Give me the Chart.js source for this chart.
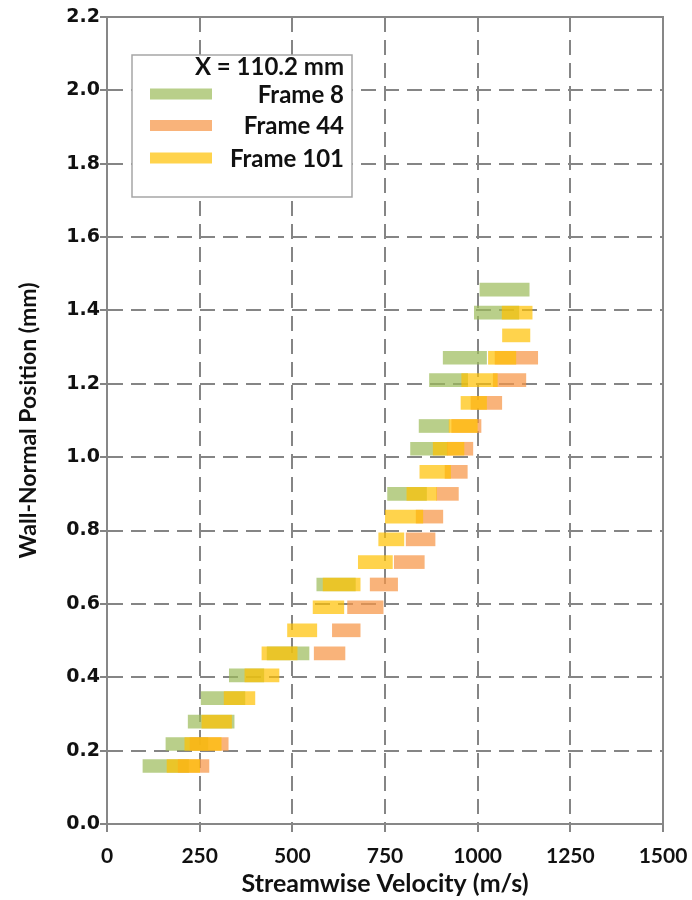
<!DOCTYPE html>
<html>
<head>
<meta charset="utf-8">
<script src="https://cdn.jsdelivr.net/npm/chart.js@4.4.1/dist/chart.umd.min.js"></script>
<style>
  html, body { margin: 0; padding: 0; background: #fff; }
  #wrap { width: 692px; height: 900px; }
</style>
</head>
<body>
<div id="wrap"><canvas id="velChart" width="692" height="900"></canvas></div>
<script>
// ---- data (velocity ranges in m/s at each wall-normal position in mm) ----
const X_TICKS = [0, 250, 500, 750, 1000, 1250, 1500];
const Y_TICKS = [0, 0.2, 0.4, 0.6, 0.8, 1.0, 1.2, 1.4, 1.6, 1.8, 2.0, 2.2];
const LEGEND_TITLE = 'X = 110.2 mm';

const frame8Pos = [0.158, 0.218, 0.279, 0.343, 0.405, 0.465, 0.653, 0.900, 1.023, 1.085, 1.210, 1.271, 1.394, 1.457];
const frame8Lo  = [97, 159, 219, 254, 330, 432, 566, 757, 819, 842, 870, 907, 991, 1006];
const frame8Hi  = [220, 272, 343, 372, 423, 545, 670, 862, 918, 923, 973, 1024, 1111, 1139];

const frame44Pos = [0.158, 0.218, 0.465, 0.528, 0.591, 0.653, 0.714, 0.776, 0.838, 0.900, 0.960, 1.023, 1.085, 1.148, 1.210, 1.271];
const frame44Lo  = [192, 224, 559, 608, 649, 710, 775, 807, 834, 889, 912, 918, 930, 982, 1042, 1047];
const frame44Hi  = [275, 327, 642, 683, 745, 784, 856, 885, 906, 948, 972, 987, 1009, 1065, 1130, 1162];

const frame101Pos = [0.158, 0.218, 0.279, 0.343, 0.405, 0.465, 0.528, 0.591, 0.653, 0.714, 0.776, 0.838, 0.900, 0.960, 1.023, 1.085, 1.148, 1.210, 1.271, 1.332, 1.394];
const frame101Lo  = [162, 210, 256, 316, 372, 418, 487, 556, 583, 678, 733, 751, 809, 844, 880, 923, 955, 957, 1029, 1067, 1066];
const frame101Hi  = [250, 308, 336, 399, 464, 513, 566, 639, 683, 770, 801, 852, 889, 927, 963, 999, 1024, 1053, 1103, 1141, 1147];

const COLORS = {
  green: 'rgba(155, 187, 89, 0.7)',
  orange: 'rgba(247, 150, 70, 0.72)',
  yellow: 'rgba(255, 192, 0, 0.7)',
  grid: '#858585',
  frame: '#878787',
  text: '#111111',
};

function toBars(pos, lo, hi) {
  return pos.map((y, i) => ({ y: y, x: [lo[i], hi[i]] }));
}

// solid box around the plot area (top/right edges are not scale borders)
const plotFrame = {
  id: 'plotFrame',
  beforeDatasetsDraw(chart) {
    const { ctx, chartArea: a } = chart;
    ctx.save();
    ctx.strokeStyle = COLORS.frame;
    ctx.lineWidth = 2;
    ctx.strokeRect(a.left, a.top, a.right - a.left, a.bottom - a.top);
    ctx.restore();
  },
};

// boxed legend inside the plot, text right aligned like the original
const legendBox = {
  id: 'legendBox',
  afterDraw(chart) {
    const { ctx, chartArea: a } = chart;
    const left = a.left + 25, top = a.top + 38, w = 220, h = 142;
    ctx.save();
    ctx.fillStyle = '#ffffff';
    ctx.fillRect(left, top, w, h);
    ctx.strokeStyle = '#a6a6a6';
    ctx.lineWidth = 1.5;
    ctx.strokeRect(left, top, w, h);

    ctx.font = 'bold 24px Lato';
    ctx.fillStyle = COLORS.text;
    ctx.textAlign = 'right';
    ctx.textBaseline = 'middle';
    const textRight = left + w - 8;
    ctx.fillText(LEGEND_TITLE, textRight, top + 12);

    const rows = [39, 70.5, 103];
    chart.data.datasets.forEach((ds, i) => {
      const cy = top + rows[i];
      ctx.fillStyle = ds.backgroundColor;
      ctx.fillRect(left + 18, cy - 5.5, 62, 11);
      ctx.fillStyle = COLORS.text;
      ctx.fillText(ds.label, textRight, cy + 1);
    });
    ctx.restore();
  },
};

const gridOpts = {
  color: COLORS.grid,
  lineWidth: 2,
  tickColor: COLORS.grid,
  tickWidth: 2,
  offset: false,
};

new Chart(document.getElementById('velChart'), {
  type: 'bar',
  data: {
    datasets: [
      { label: 'Frame 8', data: toBars(frame8Pos, frame8Lo, frame8Hi), backgroundColor: COLORS.green, order: 3 },
      { label: 'Frame 44', data: toBars(frame44Pos, frame44Lo, frame44Hi), backgroundColor: COLORS.orange, order: 2 },
      { label: 'Frame 101', data: toBars(frame101Pos, frame101Lo, frame101Hi), backgroundColor: COLORS.yellow, order: 1 },
    ],
  },
  options: {
    indexAxis: 'y',
    responsive: false,
    animation: false,
    grouped: false,
    barThickness: 13,
    borderWidth: 0,
    layout: { padding: { top: 17, right: 29, left: 0, bottom: 0 } },
    plugins: {
      legend: { display: false },
      tooltip: { enabled: false },
    },
    scales: {
      x: {
        type: 'linear',
        min: 0,
        max: 1500,
        offset: false,
        afterBuildTicks: (s) => { s.ticks = X_TICKS.map((v) => ({ value: v })); },
        afterFit: (s) => { s.height = 76; s.paddingLeft = 0; s.paddingRight = 0; },
        grid: Object.assign({ tickLength: 8 }, gridOpts),
        border: { display: true, color: COLORS.frame, width: 2, dash: [15, 8] },
        ticks: {
          color: COLORS.text,
          padding: 12,
          maxRotation: 0,
          font: { family: 'Lato', size: 21, weight: 'bold' },
          callback: (v) => String(v),
        },
        title: {
          display: true,
          text: 'Streamwise Velocity (m/s)',
          color: COLORS.text,
          font: { family: 'Lato', size: 25, weight: 'bold' },
          padding: { top: 0, bottom: 1 },
        },
      },
      y: {
        type: 'linear',
        min: 0,
        max: 2.2,
        offset: false,
        afterBuildTicks: (s) => { s.ticks = Y_TICKS.map((v) => ({ value: v })); },
        afterFit: (s) => { s.width = 107; s.paddingTop = 0; s.paddingBottom = 0; },
        grid: Object.assign({ tickLength: 7 }, gridOpts),
        border: { display: true, color: COLORS.frame, width: 2, dash: [15, 8] },
        ticks: {
          color: COLORS.text,
          padding: 0,
          font: { family: 'DejaVu Sans', size: 19, weight: 'bold' },
          callback: (v) => Number(v).toFixed(1),
        },
        title: {
          display: true,
          text: 'Wall-Normal Position (mm)',
          color: COLORS.text,
          font: { family: 'Lato', size: 23, weight: 'bold' },
          padding: { top: 15, bottom: 0 },
        },
      },
    },
  },
  plugins: [plotFrame, legendBox],
});
</script>
</body>
</html>
